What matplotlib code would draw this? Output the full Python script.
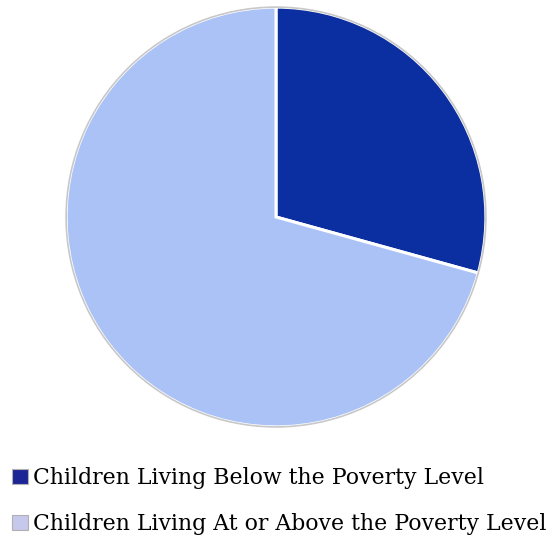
import matplotlib
matplotlib.use("Agg")
import matplotlib.pyplot as plt
from matplotlib.patches import Patch

labels = ["Children Living Below the Poverty Level",
          "Children Living At or Above the Poverty Level"]
values = [29.3, 70.7]
colors = ["#0b2ea0", "#aac2f6"]
legend_colors = ["#1c2596", "#c6c8ec"]

fig = plt.figure(figsize=(5.53, 5.37), dpi=100)
W = 424 / 553
H = 424 / 537
ax = fig.add_axes([276 / 553 - W / 2, 1 - 217 / 537 - H / 2, W, H])
ax.pie(values, colors=colors, startangle=90, counterclock=False,
       wedgeprops=dict(edgecolor="white", linewidth=2.2))
ax.add_patch(plt.Circle((0, 0), 1.0, fill=False, edgecolor="#c8c8c8", linewidth=1.2))
ax.set_aspect("equal")
ax.set_xlim(-1.01, 1.01)
ax.set_ylim(-1.01, 1.01)
ax.axis("off")

handles = [Patch(facecolor=c, edgecolor="#b0b0b0", linewidth=0.8) for c in legend_colors]
fig.legend(handles, labels, loc="upper left", bbox_to_anchor=(0.022, 0.13),
           frameon=False, prop=dict(family="DejaVu Serif", size=15.8),
           handlelength=0.7, handleheight=0.7, handletextpad=0.25,
           labelspacing=1.1, borderpad=0, borderaxespad=0)

fig.savefig("out.png", dpi=100)
